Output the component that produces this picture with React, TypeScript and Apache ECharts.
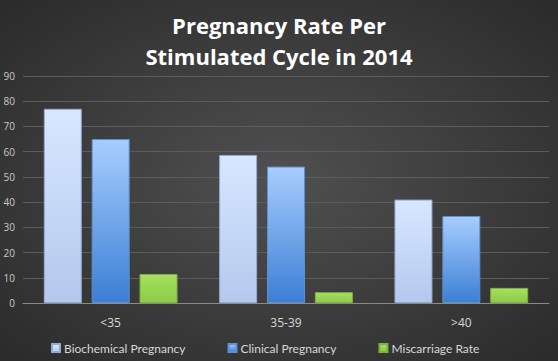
import React, { useEffect, useRef } from "react";
import * as echarts from "echarts";

const categories = ["<35", "35-39", ">40"];
const biochemical = [77, 58.7, 41];
const clinical = [65, 54.1, 34.5];
const miscarriage = [11.5, 4.3, 6];
const seriesNames = ["Biochemical Pregnancy", "Clinical Pregnancy", "Miscarriage Rate"];

export default function App() {
  const ref = useRef<HTMLDivElement>(null);
  useEffect(() => {
    const chart = echarts.init(ref.current!, null, { renderer: "svg" });
    const lg = (a: string, b: string) =>
      new echarts.graphic.LinearGradient(0, 0, 0, 1, [
        { offset: 0, color: a },
        { offset: 1, color: b },
      ]);
    chart.setOption({
      animation: false,
      backgroundColor: new echarts.graphic.RadialGradient(0.5, 0.5, 0.75, [
        { offset: 0, color: "#505050" },
        { offset: 1, color: "#282828" },
      ]),
      title: {
        text: "Pregnancy Rate Per\nStimulated Cycle in 2014",
        left: "center",
        top: 4,
        textStyle: {
          color: "#ffffff",
          fontFamily: "Open Sans",
          fontWeight: "bold",
          fontSize: 22,
          lineHeight: 31,
        },
      },
      grid: { left: 23, right: 9, top: 76, bottom: 58, containLabel: false },
      legend: {
        data: seriesNames,
        left: 46,
        top: 337,
        itemWidth: 8,
        itemHeight: 8,
        itemGap: 42,
        icon: "rect",
        textStyle: { color: "#d8d8d8", fontFamily: "Lato", fontSize: 12, padding: [0, 0, 0, -1] },
      },
      xAxis: {
        type: "category",
        data: categories,
        axisLine: { lineStyle: { color: "#8a8a8a", width: 1 } },
        axisTick: { show: false },
        axisLabel: { color: "#d8d8d8", fontFamily: "Open Sans", fontSize: 12, margin: 13 },
      },
      yAxis: {
        type: "value",
        min: 0,
        max: 90,
        interval: 10,
        axisLine: { show: false },
        axisTick: { show: false },
        splitLine: { lineStyle: { color: "#5c5c5c", width: 1 } },
        axisLabel: { color: "#c8c8c8", fontFamily: "Open Sans", fontSize: 10, margin: 8 },
      },
      series: [
        {
          name: seriesNames[0],
          type: "bar",
          data: biochemical,
          barWidth: 38,
          barGap: "26%",
          itemStyle: { color: lg("#d6e8ff", "#b4c8ee"), borderColor: "#93a9d6", borderWidth: 1 },
        },
        {
          name: seriesNames[1],
          type: "bar",
          data: clinical,
          barWidth: 38,
          barGap: "26%",
          itemStyle: { color: lg("#a8cdff", "#3c7fd4"), borderColor: "#5f8fd0", borderWidth: 1 },
        },
        {
          name: seriesNames[2],
          type: "bar",
          data: miscarriage,
          barWidth: 38,
          barGap: "26%",
          itemStyle: { color: lg("#a6e060", "#8ccb48"), borderColor: "#7fb040", borderWidth: 1 },
        },
      ],
    });
    return () => chart.dispose();
  }, []);
  return <div ref={ref} style={{ width: 558, height: 361, position: "absolute", left: 0, top: 0 }} />;
}
